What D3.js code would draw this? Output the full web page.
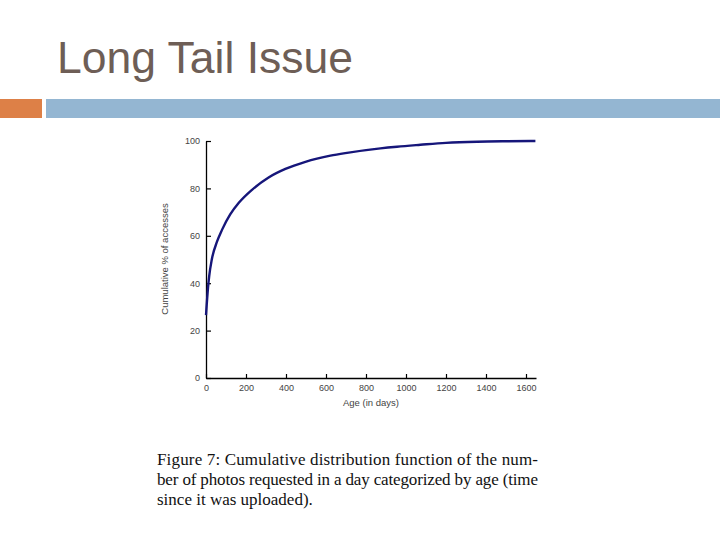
<!DOCTYPE html>
<html>
<head>
<meta charset="utf-8">
<script src="https://cdn.jsdelivr.net/npm/d3@7"></script>
<style>
html,body{margin:0;padding:0;background:#fff;}
svg{display:block;}
</style>
</head>
<body>
<script>
// ---- data ----
const titleText = "Long Tail Issue";
const ageDays = [0, 10, 16, 29, 55, 80, 121, 163, 230, 313, 397, 497, 622, 705, 872, 955, 1072, 1200, 1355, 1500, 1647];
const cumulativePct = [26.5, 38, 43, 50, 57.5, 62.5, 69, 73.8, 79.4, 84.6, 88.2, 91.2, 93.8, 95.0, 96.9, 97.6, 98.4, 99.2, 99.7, 99.9, 100];
const xTicks = [0, 200, 400, 600, 800, 1000, 1200, 1400, 1600];
const yTicks = [0, 20, 40, 60, 80, 100];
const xLabel = "Age (in days)";
const yLabel = "Cumulative % of accesses";
const captionLines = [
  "Figure 7:  Cumulative distribution function of the num-",
  "ber of photos requested in a day categorized by age (time",
  "since it was uploaded)."
];

const W = 720, H = 540;
const svg = d3.select("body").append("svg").attr("width", W).attr("height", H);
svg.append("rect").attr("width", W).attr("height", H).attr("fill", "#fff");

// title
svg.append("text").attr("x", 57).attr("y", 73)
  .attr("font-family", "Liberation Sans, Arial, sans-serif")
  .attr("font-size", 44.5).attr("fill", "#6e5e56").text(titleText);

// decorative bars
svg.append("rect").attr("x", 0).attr("y", 99).attr("width", 42).attr("height", 19).attr("fill", "#dd8047");
svg.append("rect").attr("x", 46).attr("y", 99).attr("width", W - 46).attr("height", 19).attr("fill", "#94b6d2");

// chart
const x = d3.scaleLinear().domain([0, 1650]).range([206, 536]);
const y = d3.scaleLinear().domain([0, 100]).range([378, 141]);

const axFont = "Liberation Sans, Arial, sans-serif";

const gx = svg.append("g").attr("transform", `translate(0,${y(0)})`)
  .call(d3.axisBottom(x).tickValues(xTicks).tickFormat(d3.format("d")).tickSize(-4).tickSizeOuter(0).tickPadding(7));
const gy = svg.append("g").attr("transform", `translate(${x(0)},0)`)
  .call(d3.axisLeft(y).tickValues(yTicks).tickFormat(d3.format("d")).tickSize(-5).tickSizeOuter(0).tickPadding(6));

[gx, gy].forEach(g => {
  g.select(".domain").attr("stroke", "#000").attr("stroke-width", 1.3);
  g.selectAll(".tick line").attr("stroke", "#000").attr("stroke-width", 1.2);
  g.selectAll(".tick text").attr("font-family", axFont).attr("font-size", 9).attr("fill", "#444");
});

svg.append("text").attr("x", 371).attr("y", 406).attr("text-anchor", "middle")
  .attr("font-family", axFont).attr("font-size", 9.5).attr("fill", "#444").text(xLabel);
svg.append("text").attr("transform", `translate(168,259) rotate(-90)`).attr("text-anchor", "middle")
  .attr("font-family", axFont).attr("font-size", 9.5).attr("fill", "#444").text(yLabel);

const line = d3.line().x((d, i) => x(ageDays[i])).y(d => y(d)).curve(d3.curveMonotoneX);
svg.append("path").datum(cumulativePct).attr("d", line)
  .attr("fill", "none").attr("stroke", "#16167a").attr("stroke-width", 2.4);

// caption
captionLines.forEach((t, i) => {
  const tx = svg.append("text").attr("x", 157).attr("y", 465 + i * 20)
    .attr("font-family", "Liberation Serif, Times New Roman, serif")
    .attr("font-size", 17).attr("fill", "#111").text(t);
  if (i < 2) tx.attr("textLength", 381).attr("lengthAdjust", "spacing");
});
</script>
</body>
</html>
